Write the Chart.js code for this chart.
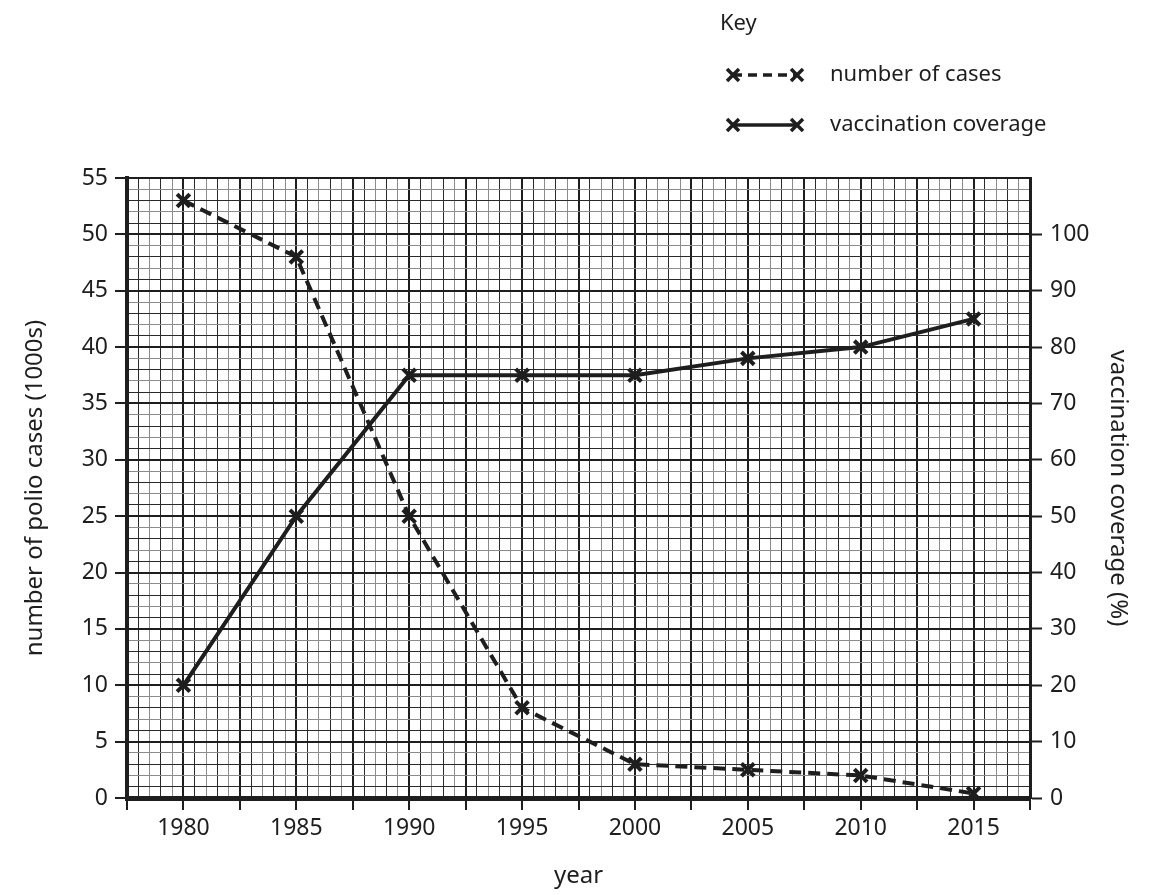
<!DOCTYPE html>
<html>
<head>
<meta charset="utf-8">
<title>Polio cases and vaccination coverage</title>
<script src="https://cdn.jsdelivr.net/npm/chart.js@4.4.0/dist/chart.umd.min.js"></script>
<style>
  html, body { margin: 0; padding: 0; background: #fff; }
  #wrap { width: 1154px; height: 895px; }
</style>
</head>
<body>
<div id="wrap"><canvas id="chart" width="1154" height="895"></canvas></div>
<script>
// values
const years = [1980, 1985, 1990, 1995, 2000, 2005, 2010, 2015];
const polioCases = [53, 48, 25, 8, 3, 2.5, 2, 0.4];              // thousands
const vaccinationCoverage = [20, 50, 75, 75, 75, 78, 80, 85];    // percent
const seriesNames = ['number of cases', 'vaccination coverage'];

const INK = '#1e1e1e';
const FONT = '"Noto Sans", sans-serif';

function isMult(v, m) {
  return Math.abs(v / m - Math.round(v / m)) < 1e-6;
}

// graph paper: thick every big square, thin lines alternate dark / grey
function minorColor(k) {
  return k % 2 === 1 ? '#2a2a2a' : '#8c8c8c';
}

function xGridColor(ctx) {
  const v = ctx.tick.value;
  if (isMult(v, 2.5)) return INK;
  return minorColor(Math.round(v * 2) % 5);
}

function yGridColor(ctx) {
  const v = ctx.tick.value;
  if (isMult(v, 5)) return INK;
  return minorColor(Math.round(v) % 5);
}

function drawCross(c, x, y, r) {
  c.beginPath();
  c.moveTo(x - r, y - r); c.lineTo(x + r, y + r);
  c.moveTo(x + r, y - r); c.lineTo(x - r, y + r);
  c.stroke();
}

// the "Key" at the top right
const keyPlugin = {
  id: 'key',
  afterDraw(chart) {
    const c = chart.ctx;
    c.save();
    c.font = '22px ' + FONT;
    c.fillStyle = INK;
    c.strokeStyle = INK;
    c.textBaseline = 'middle';
    c.fillText('Key', 720, 24);
    const rows = [75, 125];
    rows.forEach((y, i) => {
      c.lineWidth = 3.5;
      c.setLineDash(i === 0 ? [9, 6] : []);
      c.beginPath();
      c.moveTo(733, y); c.lineTo(797, y);
      c.stroke();
      c.setLineDash([]);
      drawCross(c, 733, y, 6);
      drawCross(c, 797, y, 6);
      c.fillText(seriesNames[i], 830, y);
    });
    c.restore();
  }
};

const ctx = document.getElementById('chart').getContext('2d');
new Chart(ctx, {
  type: 'line',
  data: {
    datasets: [
      {
        label: seriesNames[0],
        data: years.map((yr, i) => ({ x: yr, y: polioCases[i] })),
        yAxisID: 'y',
        borderColor: INK,
        borderWidth: 4,
        borderDash: [12, 7],
        pointStyle: 'crossRot',
        pointRadius: 9,
        pointBorderWidth: 4,
        pointBorderColor: INK,
        fill: false,
        tension: 0
      },
      {
        label: seriesNames[1],
        data: years.map((yr, i) => ({ x: yr, y: vaccinationCoverage[i] })),
        yAxisID: 'y2',
        borderColor: INK,
        borderWidth: 4,
        pointStyle: 'crossRot',
        pointRadius: 9,
        pointBorderWidth: 4,
        pointBorderColor: INK,
        fill: false,
        tension: 0
      }
    ]
  },
  options: {
    responsive: false,
    animation: false,
    devicePixelRatio: 1,
    layout: { padding: { top: 178, left: 0, right: 0, bottom: 0 } },
    plugins: {
      legend: { display: false },
      tooltip: { enabled: false }
    },
    scales: {
      x: {
        type: 'linear',
        position: 'bottom',
        min: 1977.5,
        max: 2017.5,
        afterFit(scale) { scale.height = 97; },
        ticks: {
          stepSize: 0.5,
          autoSkip: false,
          maxRotation: 0,
          minRotation: 0,
          padding: 5,
          color: INK,
          font: { family: FONT, size: 23 },
          callback: (v) => isMult(v, 5) ? String(Math.round(v)) : ''
        },
        grid: {
          color: xGridColor,
          lineWidth: (c) => isMult(c.tick.value, 2.5) ? 2 : 1,
          tickLength: 12,
          tickWidth: 2,
          tickColor: (c) => isMult(c.tick.value, 2.5) ? INK : 'rgba(0,0,0,0)'
        },
        border: { display: true, color: INK, width: 5 },
        title: {
          display: true,
          text: 'year',
          color: INK,
          font: { family: FONT, size: 24 },
          padding: { top: 0, bottom: 4 }
        }
      },
      y: {
        type: 'linear',
        position: 'left',
        min: 0,
        max: 55,
        afterFit(scale) { scale.width = 127; },
        ticks: {
          stepSize: 1,
          autoSkip: false,
          padding: 7,
          color: INK,
          font: { family: FONT, size: 23 },
          callback: (v) => isMult(v, 5) ? String(v) : ''
        },
        grid: {
          color: yGridColor,
          lineWidth: (c) => isMult(c.tick.value, 5) ? 2 : 1,
          tickLength: 12,
          tickWidth: 2,
          tickColor: (c) => isMult(c.tick.value, 5) ? INK : 'rgba(0,0,0,0)'
        },
        border: { display: true, color: INK, width: 4 },
        title: {
          display: true,
          text: 'number of polio cases (1000s)',
          color: INK,
          font: { family: FONT, size: 24 },
          padding: { top: 21, bottom: 0 }
        }
      },
      y2: {
        type: 'linear',
        position: 'right',
        min: 0,
        max: 110,
        afterFit(scale) { scale.width = 124; },
        ticks: {
          stepSize: 10,
          autoSkip: false,
          padding: 8,
          color: INK,
          font: { family: FONT, size: 23 },
          callback: (v) => v <= 100 ? String(v) : ''
        },
        grid: {
          drawOnChartArea: false,
          tickLength: 12,
          tickWidth: 2,
          tickColor: (c) => c.tick.value <= 100 ? INK : 'rgba(0,0,0,0)'
        },
        border: { display: true, color: INK, width: 3 },
        title: {
          display: true,
          text: 'vaccination coverage (%)',
          color: INK,
          font: { family: FONT, size: 24 },
          padding: { top: 22, bottom: 0 }
        }
      }
    }
  },
  plugins: [keyPlugin]
});
</script>
</body>
</html>
